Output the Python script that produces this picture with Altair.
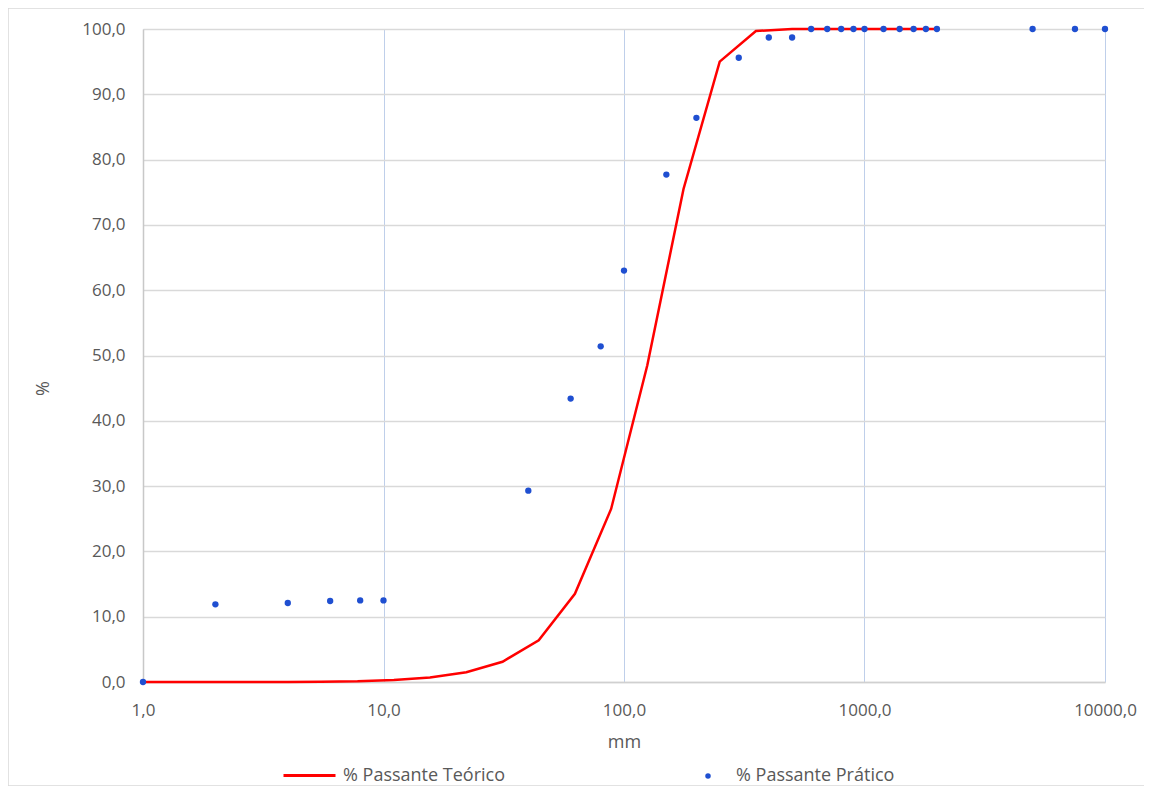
import altair as alt
import pandas as pd

# Theoretical curve (% passing)
theo_mm = [1, 2, 4, 5.5, 7.8, 11.05, 15.6, 22.1, 31.25, 44.2, 62.5, 88.4, 125, 176.8,
           250, 353.6, 500, 707, 1000, 1414, 2000]
theo_pct = [0, 0, 0, 0.05, 0.1, 0.3, 0.7, 1.5, 3.1, 6.4, 13.5, 26.5, 48.5, 75.5,
            95.0, 99.7, 100, 100, 100, 100, 100]

# Practical points (% passing)
prat_mm = [1, 2, 4, 6, 8, 10, 40, 60, 80, 100, 150, 200, 300, 400, 500, 600, 700,
           800, 900, 1000, 1200, 1400, 1600, 1800, 2000, 5000, 7500, 10000]
prat_pct = [0, 11.9, 12.1, 12.4, 12.5, 12.5, 29.3, 43.4, 51.4, 63.0, 77.7, 86.4,
            95.6, 98.7, 98.7, 100, 100, 100, 100, 100, 100, 100, 100, 100, 100,
            100, 100, 100]

x_ticks = [1, 10, 100, 1000, 10000]
y_ticks = [0, 10, 20, 30, 40, 50, 60, 70, 80, 90, 100]

serie_theo = "% Passante Teórico"
serie_prat = "% Passante Prático"

theo = pd.DataFrame({"mm": theo_mm, "pct": theo_pct, "serie": serie_theo})
prat = pd.DataFrame({"mm": prat_mm, "pct": prat_pct, "serie": serie_prat})

W, H = 962, 653
FONT = "Open Sans"
GRAY = "#595959"
LBL = "replace(format(datum.value, '.1f'), '.', ',')"

x_enc = alt.X(
    "mm:Q",
    scale=alt.Scale(type="log", domain=[1, 10000], nice=False),
    axis=alt.Axis(
        values=x_ticks, labelExpr=LBL, title="mm", grid=True,
        gridColor="#bfcfea", gridWidth=1, ticks=False,
        domainColor="#d0d0d0", domainWidth=1.5,
        labelPadding=20, titlePadding=15, labelFlush=False,
        labelFont=FONT, titleFont=FONT, labelFontSize=17, titleFontSize=18,
        labelColor=GRAY, titleColor=GRAY, titleFontWeight="normal",
    ),
)
y_enc = alt.Y(
    "pct:Q",
    scale=alt.Scale(domain=[0, 100], nice=False),
    axis=alt.Axis(
        values=y_ticks, labelExpr=LBL, title="%", grid=True,
        gridColor="#d9d9d9", gridWidth=1.5, ticks=False,
        domainColor="#c8c8c8", domainWidth=1.5,
        labelPadding=18, labelFont=FONT, titleFont=FONT,
        labelFontSize=17, titleFontSize=18, labelColor=GRAY, titleColor=GRAY,
        titleFontWeight="normal", titleX=-91, titleY=359,
    ),
)

frame = alt.Chart(pd.DataFrame({"a": [0]})).mark_rect(
    filled=False, stroke="#d9d9d9", strokeWidth=1.5
).encode(
    x=alt.value(-135), x2=alt.value(1003), y=alt.value(-21), y2=alt.value(757)
)

line = alt.Chart(theo).mark_line(strokeWidth=2.5, color="#ff0000").encode(
    x=x_enc, y=y_enc,
    color=alt.Color(
        "serie:N",
        scale=alt.Scale(domain=[serie_theo], range=["#ff0000"]),
        legend=alt.Legend(
            orient="none", legendX=139, legendY=719, title=None,
            symbolType="stroke", symbolSize=2704, symbolStrokeWidth=3,
            labelOffset=6, labelLimit=0, labelFont=FONT, labelFontSize=18,
            labelColor=GRAY,
        ),
    ),
)

pts = alt.Chart(prat).mark_circle(size=40, opacity=1).encode(
    x=x_enc, y=y_enc,
    fill=alt.Fill(
        "serie:N",
        scale=alt.Scale(domain=[serie_prat], range=["#1f4fd1"]),
        legend=alt.Legend(
            orient="none", legendX=556, legendY=738, title=None,
            symbolType="circle", symbolSize=30, symbolStrokeWidth=0,
            labelOffset=19, labelLimit=0, labelFont=FONT, labelFontSize=18,
            labelColor=GRAY,
        ),
    ),
)

chart = alt.layer(frame, line, pts).properties(
    width=W, height=H,
    padding={"left": 135, "top": 21, "right": 39, "bottom": 104},
    autosize=alt.AutoSizeParams(type="none"),
    background="white",
).configure_view(stroke=None)

chart.save("out.html", embed_options={"renderer": "svg", "actions": False})
